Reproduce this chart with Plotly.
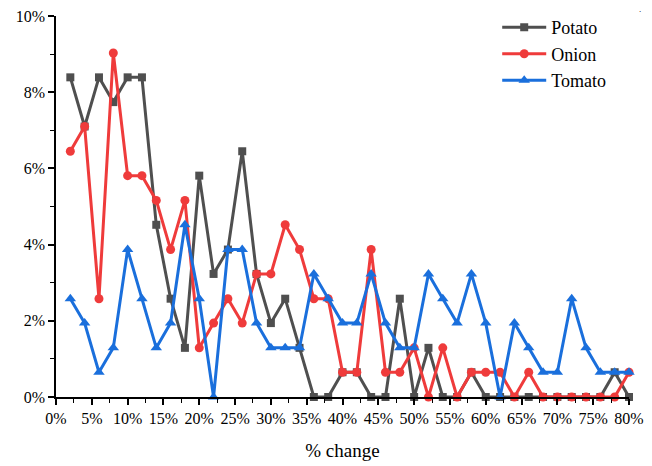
import plotly.graph_objects as go

# Share of observations (%) in each 2-point bin of price change
change_pct = list(range(2, 82, 2))

potato = [8.39, 7.10, 8.39, 7.74, 8.39, 8.39, 4.52, 2.58, 1.29, 5.81,
          3.23, 3.87, 6.45, 3.23, 1.94, 2.58, 1.29, 0.00, 0.00, 0.65,
          0.65, 0.00, 0.00, 2.58, 0.00, 1.29, 0.00, 0.00, 0.65, 0.00,
          0.00, 0.00, 0.00, 0.00, 0.00, 0.00, 0.00, 0.00, 0.65, 0.00]
onion = [6.45, 7.10, 2.58, 9.03, 5.81, 5.81, 5.16, 3.87, 5.16, 1.29,
         1.94, 2.58, 1.94, 3.23, 3.23, 4.52, 3.87, 2.58, 2.58, 0.65,
         0.65, 3.87, 0.65, 0.65, 1.29, 0.00, 1.29, 0.00, 0.65, 0.65,
         0.65, 0.00, 0.65, 0.00, 0.00, 0.00, 0.00, 0.00, 0.00, 0.65]
tomato = [2.58, 1.94, 0.65, 1.29, 3.87, 2.58, 1.29, 1.94, 4.52, 2.58,
          0.00, 3.87, 3.87, 1.94, 1.29, 1.29, 1.29, 3.23, 2.58, 1.94,
          1.94, 3.23, 1.94, 1.29, 1.29, 3.23, 2.58, 1.94, 3.23, 1.94,
          0.00, 1.94, 1.29, 0.65, 0.65, 2.58, 1.29, 0.65, 0.65, 0.65]

x_tick_vals = list(range(0, 85, 5))
x_tick_text = [f"{v}%" for v in x_tick_vals]
y_tick_vals = list(range(0, 12, 2))
y_tick_text = [f"{v}%" for v in y_tick_vals]

series = [
    ("Potato", potato, "#4f4f4f", "square", 8),
    ("Onion", onion, "#ef3b3b", "circle", 9),
    ("Tomato", tomato, "#1a6fdc", "triangle-up", 10),
]

FONT = "Liberation Serif, DejaVu Serif, serif"

fig = go.Figure()
for name, vals, color, symbol, msize in series:
    fig.add_trace(go.Scatter(
        x=change_pct, y=vals, name=name, mode="lines+markers",
        line=dict(color=color, width=3),
        marker=dict(symbol=symbol, size=msize, color=color),
        cliponaxis=False,
    ))

fig.update_layout(
    width=652, height=466,
    margin=dict(l=56, r=23, t=16, b=69, autoexpand=False),
    paper_bgcolor="white", plot_bgcolor="white",
    font=dict(family=FONT, color="black", size=16),
    showlegend=True,
    legend=dict(x=0.77, y=1.018, xanchor="left", yanchor="top",
                font=dict(size=18, family=FONT),
                bgcolor="rgba(0,0,0,0)", tracegroupgap=0,
                itemwidth=44),
    xaxis=dict(
        range=[0, 80], tickvals=x_tick_vals, ticktext=x_tick_text,
        showgrid=False, zeroline=False, showline=True,
        linecolor="black", linewidth=1.5,
        ticks="outside", ticklen=6, tickwidth=1.5, tickcolor="black",
        minor=dict(dtick=2.5, tick0=0, ticks="outside", ticklen=4,
                   tickwidth=1.2, tickcolor="black"),
        title=dict(text="% change", font=dict(size=19, family=FONT),
                   standoff=18),
        tickfont=dict(size=16, family=FONT),
    ),
    yaxis=dict(
        range=[0, 10], tickvals=y_tick_vals, ticktext=y_tick_text,
        showgrid=False, zeroline=False, showline=True,
        linecolor="black", linewidth=1.5,
        ticks="outside", ticklen=6, tickwidth=1.5, tickcolor="black",
        minor=dict(dtick=1, tick0=0, ticks="outside", ticklen=4,
                   tickwidth=1.2, tickcolor="black"),
        tickfont=dict(size=16, family=FONT),
    ),
    annotations=[dict(text=".", x=1.02, y=1.0, xref="paper", yref="paper",
                      xanchor="center", yanchor="bottom",
                      showarrow=False, font=dict(size=9, family=FONT))],
)

fig.write_html("out.html")
